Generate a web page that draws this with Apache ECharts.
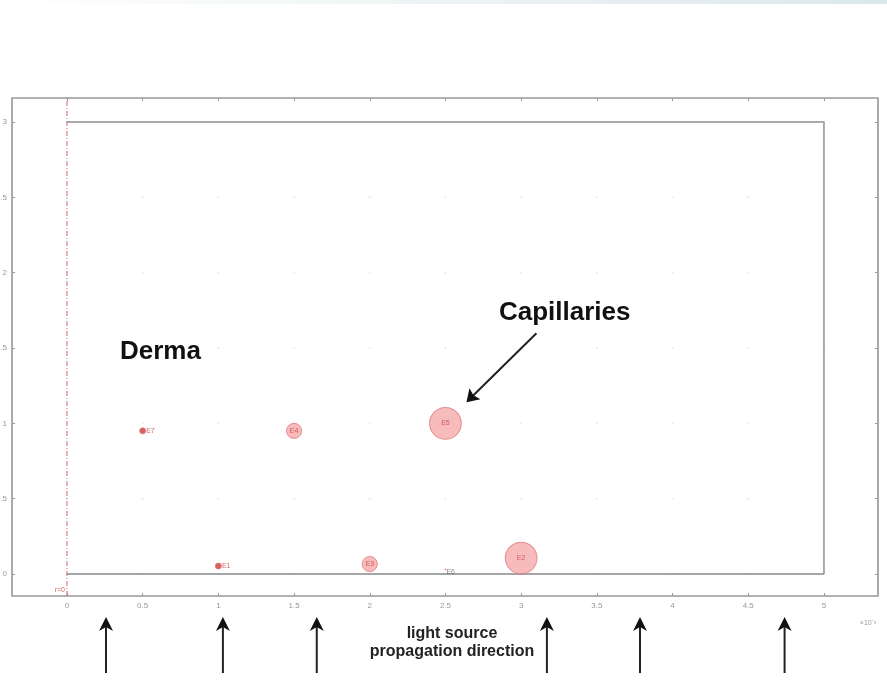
<!DOCTYPE html>
<html>
<head>
<meta charset="utf-8">
<script src="https://cdn.jsdelivr.net/npm/echarts@6/dist/echarts.min.js"></script>
<style>
  html, body { margin: 0; padding: 0; background: #fff; }
  #chart { width: 887px; height: 691px; }
</style>
</head>
<body>
<div id="chart"></div>
<script>
// capillaries: position (x in 1e-3 units, y) and radius (same units)
const capNames = ['E1', 'E2', 'E3', 'E4', 'E5', 'E6', 'E7'];
const capX = [1.0, 3.0, 2.0, 1.5, 2.5, 2.5, 0.5];
const capY = [0.053, 0.106, 0.066, 0.95, 1.0, 0.03, 0.95];
const capR = [0.02, 0.105, 0.05, 0.05, 0.105, 0.003, 0.02];

// axis ticks and domain
const xTicks = [0, 0.5, 1, 1.5, 2, 2.5, 3, 3.5, 4, 4.5, 5];
const yTicks = [0, 0.5, 1, 1.5, 2, 2.5, 3];
const domainX = [0, 5];
const domainY = [0, 3];

// light source arrows along x
const arrowX = [0.258, 1.03, 1.65, 3.17, 3.785, 4.74];

const xMin = -0.363, xMax = 5.357, yMin = -0.146, yMax = 3.159;
const gridL = 12, gridR = 9, gridT = 98, gridB = 95;
const pxPerUnit = (887 - gridL - gridR) / (xMax - xMin);

var myChart = echarts.init(document.getElementById('chart'));

var dots = [];
xTicks.forEach(x => yTicks.forEach(y => dots.push([x, y])));

var caps = capNames.map((n, i) => [capX[i], capY[i], capR[i], n]);

var option = {
    animation: false,
    grid: {
        left: gridL, right: gridR, top: gridT, bottom: gridB,
        outerBoundsMode: 'none', containLabel: false,
        show: true, borderColor: '#666', borderWidth: 1
    },
    xAxis: [{
        type: 'value', min: xMin, max: xMax,
        axisLine: { show: false, onZero: false },
        splitLine: { show: false },
        axisTick: { inside: true, length: 3, customValues: xTicks, lineStyle: { color: '#999' } },
        axisLabel: { customValues: xTicks, fontSize: 8, color: '#999', margin: 6,
            fontFamily: 'Liberation Sans' }
    }, {
        type: 'value', min: xMin, max: xMax, position: 'top',
        axisLine: { show: false, onZero: false }, splitLine: { show: false },
        axisTick: { inside: true, length: 3, customValues: xTicks, lineStyle: { color: '#999' } },
        axisLabel: { show: false }
    }],
    yAxis: [{
        type: 'value', min: yMin, max: yMax,
        axisLine: { show: true, onZero: false, lineStyle: { color: '#aaa', width: 2 } },
        splitLine: { show: false },
        axisTick: { inside: true, length: 3, customValues: yTicks, lineStyle: { color: '#999' } },
        axisLabel: { customValues: yTicks, fontSize: 8, color: '#999', margin: 5,
            fontFamily: 'Liberation Sans' }
    }, {
        type: 'value', min: yMin, max: yMax, position: 'right',
        axisLine: { show: true, onZero: false, lineStyle: { color: '#aaa', width: 2 } },
        splitLine: { show: false },
        axisTick: { inside: true, length: 3, customValues: yTicks, lineStyle: { color: '#999' } },
        axisLabel: { show: false }
    }],
    series: [{
        // faint grid dots
        type: 'scatter', silent: true, z: 1,
        symbolSize: 2,
        itemStyle: { color: '#e4e4e4' },
        data: dots
    }, {
        // domain outline
        type: 'line', silent: true, z: 2,
        symbol: 'none',
        lineStyle: { color: '#aaa', width: 2 },
        data: [[domainX[1], domainY[0]], [domainX[1], domainY[1]], [domainX[0], domainY[1]]]
    }, {
        // domain bottom edge
        type: 'line', silent: true, z: 2,
        symbol: 'none',
        lineStyle: { color: '#888', width: 1.5 },
        data: [[domainX[0], domainY[0]], [domainX[1], domainY[0]]]
    }, {
        // symmetry axis r=0
        type: 'line', silent: true, z: 3,
        symbol: 'none',
        lineStyle: { color: '#d46a6a', width: 1, type: [5, 2, 1, 2] },
        data: [[domainX[0], yMin], [domainX[0], yMax]]
    }, {
        type: 'scatter', z: 5,
        symbol: 'circle',
        symbolSize: function (v) { return Math.max(2 * v[2] * pxPerUnit, 1); },
        itemStyle: {
            color: function (p) {
                return p.value[2] < 0.03 ? '#c83a3a' : 'rgba(240,125,125,0.65)';
            },
            borderColor: '#e07b7b', borderWidth: 1
        },
        label: {
            show: true,
            formatter: function (p) { return p.value[3]; },
            position: 'inside',
            fontSize: 7,
            color: '#c84444',
            fontFamily: 'Liberation Sans'
        },
        data: caps.map(c => {
            var d = { value: c };
            if (c[2] < 0.03) {
                d.label = { position: 'right', distance: 0,
                    color: c[2] < 0.01 ? '#666' : '#c84444',
                    offset: c[2] < 0.01 ? [0, 3] : [0, 0] };
            }
            return d;
        })
    }]
};
myChart.setOption(option);

function arrowUp(px, tipY, botY) {
    return [{
        type: 'line', z: 100,
        shape: { x1: px, y1: tipY + 10, x2: px, y2: botY },
        style: { stroke: '#222', lineWidth: 2 }
    }, {
        type: 'polygon', z: 100,
        shape: { points: [[px, tipY], [px - 7, tipY + 14], [px, tipY + 10], [px + 7, tipY + 14]] },
        style: { fill: '#111' }
    }];
}

var g = [{
    type: 'rect', z: 0,
    shape: { x: 0, y: 0, width: 887, height: 4 },
    style: {
        fill: new echarts.graphic.LinearGradient(0, 0, 1, 0, [
            { offset: 0, color: '#ffffff' }, { offset: 1, color: '#dbe8ea' }
        ])
    }
}, {
    type: 'text', z: 100, left: 120, top: 339,
    style: { text: 'Derma', font: 'bold 26px "Liberation Sans"', fill: '#111' }
}, {
    type: 'text', z: 100, left: 499, top: 300,
    style: { text: 'Capillaries', font: 'bold 26px "Liberation Sans"', fill: '#111' }
}, {
    type: 'text', z: 100, x: 452, y: 625,
    style: { text: 'light source\npropagation direction', font: 'bold 16px "Liberation Sans"',
        fill: '#222', align: 'center', verticalAlign: 'top', lineHeight: 18 }
}, {
    type: 'text', z: 100, x: 876, y: 620,
    style: { text: '×10⁻³', font: '7px "Liberation Sans"', fill: '#999', align: 'right' }
}];

// data-anchored annotations
var r0 = myChart.convertToPixel({ gridIndex: 0 }, [domainX[0], yMin]);
g.push({
    type: 'text', z: 100, x: r0[0] - 2, y: r0[1] - 6,
    style: { text: 'r=0', font: '7px "Liberation Sans"', fill: '#d46a6a', align: 'right', verticalAlign: 'middle' }
});

// arrow to E5 capillary
var e5 = myChart.convertToPixel({ gridIndex: 0 }, [capX[4], capY[4]]);
var tip = [e5[0] + 21, e5[1] - 21];
var start = [tip[0] + 70, tip[1] - 69];
g.push({
    type: 'line', z: 100,
    shape: { x1: start[0], y1: start[1], x2: tip[0] + 6, y2: tip[1] - 6 },
    style: { stroke: '#222', lineWidth: 2 }
}, {
    type: 'polygon', z: 100,
    shape: { points: [tip, [tip[0] + 3, tip[1] - 14], [tip[0] + 7, tip[1] - 7], [tip[0] + 14, tip[1] - 3]] },
    style: { fill: '#111' }
});

arrowX.forEach(x => {
    var p = myChart.convertToPixel({ gridIndex: 0 }, [x, 0]);
    g = g.concat(arrowUp(p[0], 617, 673));
});

myChart.setOption({ graphic: g });
</script>
</body>
</html>
